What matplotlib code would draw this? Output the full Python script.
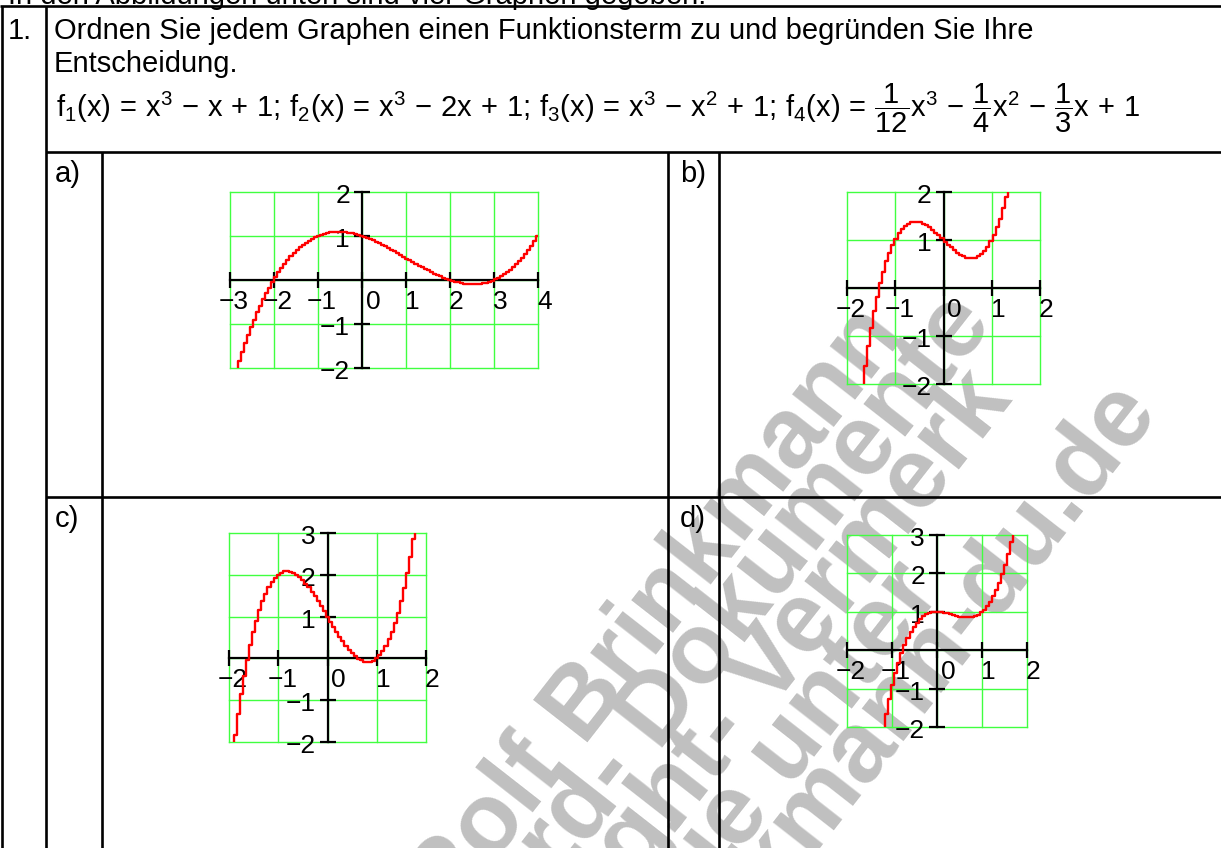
import numpy as np
import matplotlib
matplotlib.use("Agg")
import matplotlib.pyplot as plt

plt.rcParams['font.family'] = ['Liberation Sans', 'DejaVu Sans']
plt.rcParams['mathtext.fontset'] = 'custom'
plt.rcParams['mathtext.rm'] = 'Liberation Sans'
plt.rcParams['mathtext.it'] = 'Liberation Sans'
plt.rcParams['mathtext.bf'] = 'Liberation Sans:bold'
plt.rcParams['mathtext.sf'] = 'Liberation Sans'

# ---------------- data ----------------
task_number = "1."
task_line1 = "Ordnen Sie jedem Graphen einen Funktionsterm zu und begründen Sie Ihre"
task_line2 = "Entscheidung."
top_cut_text = "In den Abbildungen unten sind vier Graphen gegeben."
formula = (r"$\mathrm{f}_1(\mathrm{x})\,=\,\mathrm{x}^3\,-\,\mathrm{x}\,+\,1;\,"
           r"\mathrm{f}_2(\mathrm{x})\,=\,\mathrm{x}^3\,-\,2\mathrm{x}\,+\,1;\,"
           r"\mathrm{f}_3(\mathrm{x})\,=\,\mathrm{x}^3\,-\,\mathrm{x}^2\,+\,1;\,"
           r"\mathrm{f}_4(\mathrm{x})\,=\,\dfrac{1}{12}\mathrm{x}^3\,-\,\dfrac{1}{4}\mathrm{x}^2"
           r"\,-\,\dfrac{1}{3}\mathrm{x}\,+\,1$")

panel_labels = ['a)', 'b)', 'c)', 'd)']
# polynomial coefficients (highest power first) of the plotted function per panel
coef_f1 = [1, 0, -1, 1]            # x^3 - x + 1
coef_f2 = [1, 0, -2, 1]            # x^3 - 2x + 1
coef_f3 = [1, -1, 0, 1]            # x^3 - x^2 + 1
coef_f4 = [1/12, -1/4, -1/3, 1]    # 1/12 x^3 - 1/4 x^2 - 1/3 x + 1
panel_coefs = [coef_f4, coef_f1, coef_f2, coef_f3]
x_ranges = [(-3, 4), (-2, 2), (-2, 2), (-2, 2)]
y_ranges = [(-2, 2), (-2, 2), (-2, 3), (-2, 3)]
x_tick_values = [[-3, -2, -1, 0, 1, 2, 3, 4], [-2, -1, 0, 1, 2], [-2, -1, 0, 1, 2], [-2, -1, 0, 1, 2]]
y_tick_values = [[-2, -1, 1, 2], [-2, -1, 1, 2], [-2, -1, 1, 2, 3], [-2, -1, 1, 2, 3]]

watermark_lines = ["Rolf Brinkmann", "Word- Dokumente", "Copyright- Vermerk",
                   "finden Sie unter", "www.brinkmann-du.de"]

# ---------------- layout (pixels) ----------------
W, H = 1221, 848
plot_boxes = [(230, 192, 538, 368), (847, 192, 1040, 384),
              (229, 533, 426, 742), (847, 535, 1027, 727)]
label_pos = [(55, 182), (680, 182), (55, 527), (680, 527)]
wm_origins = [(447, 922), (465, 1000), (442, 1131), (478, 1187), (503, 1255)]
wm_angle = 52

GREEN = '#40ff40'
LW_TABLE = 1.9
FS_TEXT = 21
FS_TICK = 19

fig = plt.figure(figsize=(W / 100, H / 100), dpi=100)
bg = fig.add_axes([0, 0, 1, 1])
bg.set_xlim(0, W)
bg.set_ylim(H, 0)
bg.axis('off')

# watermark
for txt, (ox, oy) in zip(watermark_lines, wm_origins):
    bg.text(ox, oy, txt, rotation=wm_angle, rotation_mode='anchor', ha='left',
            va='baseline', fontsize=72, fontweight='bold', color='#c0c0c0',
            zorder=0, clip_on=False)

# table lines
def hline(y, x0, x1):
    bg.plot([x0, x1], [y, y], color='black', lw=LW_TABLE, solid_capstyle='butt', zorder=3)

def vline(x, y0, y1):
    bg.plot([x, x], [y0, y1], color='black', lw=LW_TABLE, solid_capstyle='butt', zorder=3)

hline(6, 0, W)
vline(1.5, 6, H)
vline(46, 6, H)
hline(152, 46, W)
hline(497, 46, W)
vline(102, 152, H)
vline(668, 152, H)
vline(719, 152, H)

# texts
bg.text(8, 4, top_cut_text, fontsize=FS_TEXT, ha='left', va='baseline', zorder=4)
bg.text(8, 39, task_number, fontsize=FS_TEXT, ha='left', va='baseline', zorder=4)
bg.text(54, 39, task_line1, fontsize=FS_TEXT, ha='left', va='baseline', zorder=4)
bg.text(54, 72, task_line2, fontsize=FS_TEXT, ha='left', va='baseline', zorder=4)
bg.text(56, 118, formula, fontsize=FS_TEXT, ha='left', va='baseline', zorder=4)
for lab, (lx, ly) in zip(panel_labels, label_pos):
    bg.text(lx, ly, lab, fontsize=FS_TEXT, ha='left', va='baseline', zorder=4)

# plots
def fmt(v):
    return ('\u2212' + str(abs(v))) if v < 0 else str(v)

for i in range(4):
    x0, y0, x1, y1 = plot_boxes[i]
    ax = fig.add_axes([x0 / W, 1 - y1 / H, (x1 - x0) / W, (y1 - y0) / H])
    ax.patch.set_alpha(0)
    for s in ax.spines.values():
        s.set_visible(False)
    ax.set_xticks([]); ax.set_yticks([])
    xr, yr = x_ranges[i], y_ranges[i]
    ax.set_xlim(*xr); ax.set_ylim(*yr)
    # green grid + frame
    for k in range(xr[0], xr[1] + 1):
        ax.plot([k, k], [yr[0], yr[1]], color=GREEN, lw=1.0, clip_on=False, zorder=1)
    for k in range(yr[0], yr[1] + 1):
        ax.plot([xr[0], xr[1]], [k, k], color=GREEN, lw=1.0, clip_on=False, zorder=1)
    # axes lines
    ax.plot([xr[0], xr[1]], [0, 0], color='black', lw=1.6, clip_on=False, zorder=2)
    ax.plot([0, 0], [yr[0], yr[1]], color='black', lw=1.6, clip_on=False, zorder=2)
    ax.plot(x_tick_values[i], [0] * len(x_tick_values[i]), ls='none', marker='|',
            ms=11.5, mew=1.6, color='black', clip_on=False, zorder=2)
    ax.plot([0] * len(y_tick_values[i]), y_tick_values[i], ls='none', marker='_',
            ms=11.5, mew=1.6, color='black', clip_on=False, zorder=2)
    # tick labels
    for v in x_tick_values[i]:
        dx = -11 if v < 0 else (4 if v == 0 else -1)
        ax.annotate(fmt(v), (v, 0), xytext=(dx, -29), textcoords='offset pixels',
                    ha='left', va='baseline', fontsize=FS_TICK, annotation_clip=False, zorder=3)
    for v in y_tick_values[i]:
        ax.annotate(fmt(v), (0, v), xytext=(-12, -11), textcoords='offset pixels',
                    ha='right', va='baseline', fontsize=FS_TICK, annotation_clip=False, zorder=3)
    # curve
    npts = int((x1 - x0) / 3)
    xs = np.linspace(xr[0], xr[1], npts)
    ax.plot(xs, np.polyval(panel_coefs[i], xs), color='red', lw=1.7,
            drawstyle='steps-mid', zorder=4)

fig.savefig('out.png', dpi=100)
